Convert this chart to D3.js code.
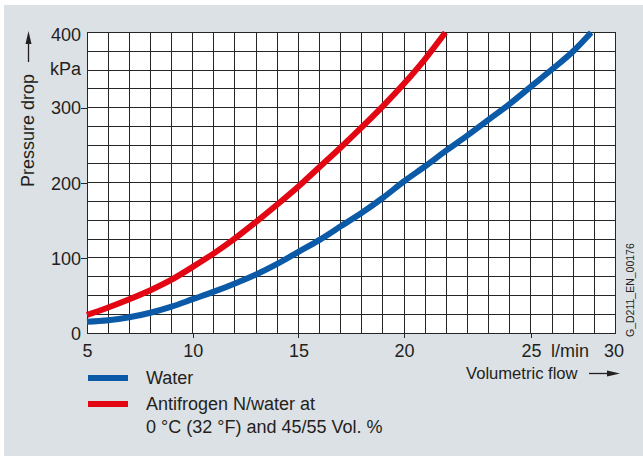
<!DOCTYPE html>
<html>
<head>
<meta charset="utf-8">
<script src="https://cdn.jsdelivr.net/npm/d3@7"></script>
<style>
  body { margin: 0; background: #fff; }
  text { font-family: "Liberation Sans", Arial, sans-serif; fill: #231f20; }
</style>
</head>
<body>
<div id="chart"></div>
<script>
// Flow in l/min (grid units), pressure drop in kPa
let waterFlow = [5, 6, 7, 8, 9, 10, 11, 12, 13, 14, 15, 16, 17, 18, 19, 20, 21, 22, 23, 24, 25, 26, 27, 28, 28.85];
let waterDrop = [15, 17, 21, 27, 35, 45, 55, 66, 78, 92, 108, 124, 142, 160, 180, 202, 222, 243, 263, 284, 305, 328, 351, 375, 400];

let antiFlow = [5, 6, 7, 8, 9, 10, 11, 12, 13, 14, 15, 16, 17, 18, 19, 20, 21, 21.95];
let antiDrop = [24, 34, 45, 57, 71, 88, 106, 126, 148, 171, 195, 221, 247, 274, 302, 332, 365, 400];

// tick labels (the "25" label of the original sits on the 26 grid line)
let xTickValues = [5, 10, 15, 20, 26, 30];
let xTickLabels = ['5', '10', '15', '20', '25', '30'];
let yTickValues = [0, 100, 200, 300, 350, 400];
let yTickLabels = ['0', '100', '200', '300', 'kPa', '400'];

let legendLabels = [['Water'], ['Antifrogen N/water at', '0 \u00b0C (32 \u00b0F) and 45/55 Vol. %']];
let colors = ['#0a5aa8', '#e30613'];

// Set dimensions and plot frame
let W = 643, H = 456;
let frame = {
    left: 87,
    right: 615.5,
    top: 32.5,
    bottom: 333
};
let font = '"Liberation Sans", Arial, sans-serif';

let x = d3.scaleLinear().domain([5, 30]).range([frame.left, frame.right]);
let y = d3.scaleLinear().domain([0, 400]).range([frame.bottom, frame.top]);

let svg = d3.select('#chart')
    .append('svg')
    .attr('width', W)
    .attr('height', H);

// grey panel
svg.append('rect')
    .attr('x', 4)
    .attr('y', 5)
    .attr('width', W - 4)
    .attr('height', H - 5)
    .attr('fill', '#dce1e5');

svg.append('rect')
    .attr('x', frame.left)
    .attr('y', frame.top)
    .attr('width', frame.right - frame.left)
    .attr('height', frame.bottom - frame.top)
    .attr('fill', '#fff');

// grid: 1 l/min and 25 kPa
let grid = svg.append('g')
    .attr('stroke', '#262626')
    .attr('stroke-width', 1)
    .attr('shape-rendering', 'crispEdges');

grid.selectAll('.vline')
    .data(d3.range(5, 31))
    .enter()
    .append('line')
    .attr('x1', function (d) { return x(d); })
    .attr('x2', function (d) { return x(d); })
    .attr('y1', frame.top)
    .attr('y2', frame.bottom);

grid.selectAll('.hline')
    .data(d3.range(0, 401, 25))
    .enter()
    .append('line')
    .attr('x1', frame.left)
    .attr('x2', frame.right)
    .attr('y1', function (d) { return y(d); })
    .attr('y2', function (d) { return y(d); });

// curves
let line = d3.line()
    .x(function (d) { return x(d[0]); })
    .y(function (d) { return y(d[1]); })
    .curve(d3.curveMonotoneX);

let series = [d3.zip(waterFlow, waterDrop), d3.zip(antiFlow, antiDrop)];

svg.selectAll('.curve')
    .data(series)
    .enter()
    .append('path')
    .attr('class', 'curve')
    .attr('d', line)
    .attr('fill', 'none')
    .attr('stroke', function (d, i) { return colors[i]; })
    .attr('stroke-width', 6);

// X axis
let xAxis = svg.append('g')
    .attr('transform', 'translate(0,' + frame.bottom + ')')
    .call(d3.axisBottom(x)
        .tickValues(xTickValues)
        .tickSize(5)
        .tickFormat(function (d, i) { return xTickLabels[i]; }));

xAxis.select('.domain').remove();
xAxis.selectAll('.tick line')
    .attr('stroke', '#262626')
    .attr('stroke-width', 1)
    .attr('shape-rendering', 'crispEdges')
    .attr('opacity', function (d) { return (d === 5 || d === 30) ? 0 : 1; });
xAxis.selectAll('.tick text')
    .attr('y', 24)
    .attr('dy', null)
    .attr('dx', function (d) { return d === 30 ? -2 : 0; })
    .attr('fill', '#231f20')
    .style('font-size', '18px')
    .style('font-family', font);

// Y axis
let yAxis = svg.append('g')
    .attr('transform', 'translate(' + frame.left + ',0)')
    .call(d3.axisLeft(y)
        .tickValues(yTickValues)
        .tickSize(6)
        .tickPadding(0)
        .tickFormat(function (d, i) { return yTickLabels[i]; }));

yAxis.select('.domain').remove();
yAxis.selectAll('.tick line')
    .attr('stroke', '#262626')
    .attr('stroke-width', 1)
    .attr('shape-rendering', 'crispEdges')
    .attr('opacity', function (d) { return (d === 0 || d === 350 || d === 400) ? 0 : 1; });
yAxis.selectAll('.tick text')
    .attr('dy', function (d) { return d === 350 ? '0.22em' : (d === 400 ? '0.42em' : '0.35em'); })
    .attr('fill', '#231f20')
    .style('font-size', '18px')
    .style('font-family', font);

// unit next to 25
svg.append('text')
    .attr('x', 570)
    .attr('y', 357)
    .attr('text-anchor', 'middle')
    .style('font-size', '18px')
    .text('l/min');

// axis titles with arrows
svg.append('text')
    .attr('transform', 'translate(33.5,187) rotate(-90)')
    .style('font-size', '18px')
    .text('Pressure drop');

svg.append('line')
    .attr('x1', 28.5).attr('x2', 28.5)
    .attr('y1', 62).attr('y2', 42)
    .attr('stroke', '#231f20')
    .attr('stroke-width', 1.3);
svg.append('path')
    .attr('d', 'M28.5,31 L25.5,44 L31.5,44 Z')
    .attr('fill', '#231f20');

svg.append('text')
    .attr('x', 466)
    .attr('y', 379)
    .style('font-size', '16.6px')
    .text('Volumetric flow');

svg.append('line')
    .attr('x1', 589).attr('x2', 608)
    .attr('y1', 373.5).attr('y2', 373.5)
    .attr('stroke', '#231f20')
    .attr('stroke-width', 1.3);
svg.append('path')
    .attr('d', 'M620,373.5 L607,370.5 L607,376.5 Z')
    .attr('fill', '#231f20');

// drawing id
svg.append('text')
    .attr('transform', 'translate(634,337) rotate(-90)')
    .style('font-size', '10.5px')
    .attr('fill', '#444')
    .text('G_D211_EN_00176');

// legend
let legend = svg.selectAll('.legend')
    .data(legendLabels)
    .enter()
    .append('g')
    .attr('class', 'legend')
    .attr('transform', function (d, i) { return 'translate(0,' + (378 + i * 26) + ')'; });

legend.append('line')
    .attr('x1', 88)
    .attr('x2', 128)
    .attr('stroke', function (d, i) { return colors[i]; })
    .attr('stroke-width', 6);

legend.selectAll('text')
    .data(function (d) { return d; })
    .enter()
    .append('text')
    .attr('x', 146)
    .attr('y', function (d, j) { return 5.5 + j * 23.5; })
    .style('font-size', '18px')
    .text(function (d) { return d; });
</script>
</body>
</html>
